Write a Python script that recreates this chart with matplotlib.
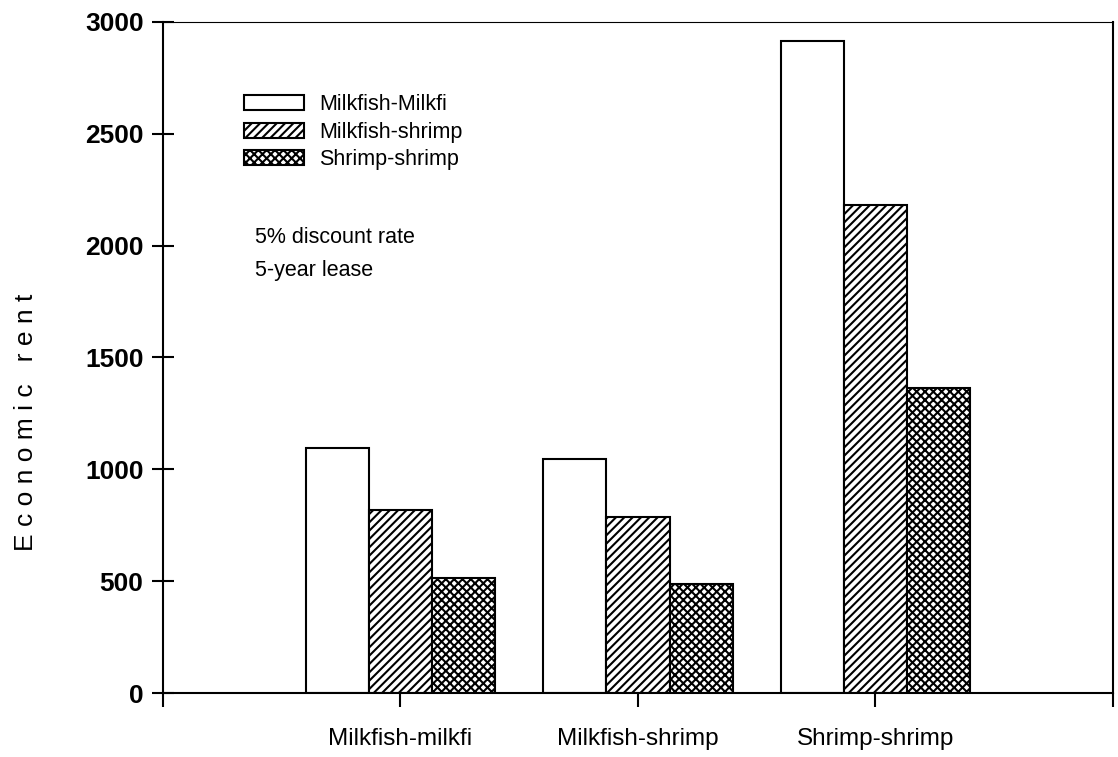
import numpy as np
import matplotlib
matplotlib.use('Agg')
import matplotlib.pyplot as plt

plt.rcParams['font.family'] = ['Liberation Sans', 'DejaVu Sans']
plt.rcParams['hatch.linewidth'] = 1.5

groups = ['Milkfish-milkfi', 'Milkfish-shrimp', 'Shrimp-shrimp']
series = ['Milkfish-Milkfi', 'Milkfish-shrimp', 'Shrimp-shrimp']
milk_milk = [1095, 1045, 2915]
milk_shrimp = [820, 788, 2180]
shrimp_shrimp = [515, 488, 1365]
yticks = [0, 500, 1000, 1500, 2000, 2500, 3000]

fig = plt.figure(figsize=(11.18, 7.57), dpi=100)
ax = fig.add_axes([0.1458, 0.0845, 0.8497, 0.8865])

x = np.arange(1, len(groups) + 1)
w = 0.266
hatches = ['', '////', 'xxxx']
for i, (vals, name) in enumerate(zip([milk_milk, milk_shrimp, shrimp_shrimp], series)):
	ax.bar(x + (i - 1) * w, vals, w, color='white', edgecolor='black',
	       linewidth=1.5, hatch=hatches[i], label=name)

ax.set_xlim(0, 4)
ax.set_ylim(0, 3000)
ax.set_xticks([0, 1, 2, 3, 4])
ax.set_xticklabels([''] + groups + [''], fontsize=17.5)
ax.set_yticks(yticks)
ax.set_yticklabels([str(t) for t in yticks], fontsize=19, fontweight='bold')
ax.tick_params(axis='x', direction='out', length=10, width=1.5, pad=15)
ax.tick_params(axis='y', direction='inout', length=16, width=1.5, pad=6)
for s in ax.spines.values():
	s.set_linewidth(1.5)
ax.spines['top'].set_linewidth(0.8)

ax.set_ylabel('E c o n o m i c   r e n t', fontsize=19)
ax.yaxis.set_label_coords(-0.132, 0.404)

leg = ax.legend(loc='upper left', bbox_to_anchor=(0.076, 0.905), frameon=False,
                fontsize=15.5, handlelength=2.8, handleheight=0.7, handletextpad=0.7,
                labelspacing=0.3, borderaxespad=0)

ax.text(0.097, 0.654, '5% discount rate\n5-year lease', transform=ax.transAxes,
        fontsize=15.5, va='center', ha='left', linespacing=1.75)

fig.savefig('out.png', dpi=100)
